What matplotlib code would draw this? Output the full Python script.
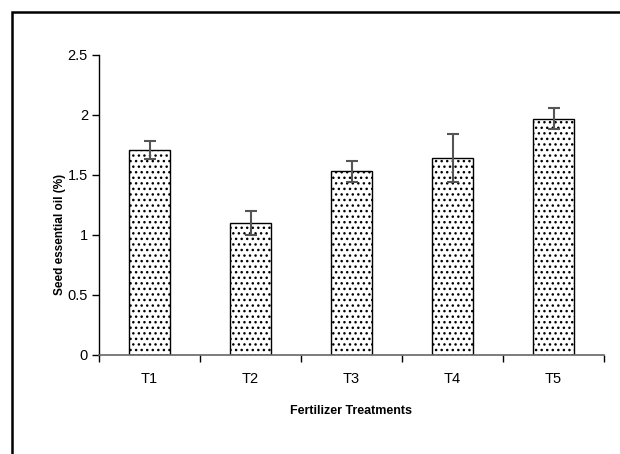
import matplotlib
matplotlib.use("Agg")
import matplotlib.pyplot as plt
from matplotlib.patches import Rectangle
import numpy as np

categories = ["T1", "T2", "T3", "T4", "T5"]
values = [1.71, 1.10, 1.53, 1.64, 1.97]
errors = [0.075, 0.10, 0.09, 0.20, 0.09]
yticks = [0, 0.5, 1, 1.5, 2, 2.5]
ytick_labels = ["0", "0.5", "1", "1.5", "2", "2.5"]

plt.rcParams['font.family'] = ['Liberation Sans', 'DejaVu Sans']
plt.rcParams['hatch.color'] = '#444444'
plt.rcParams['hatch.linewidth'] = 1.0

fig = plt.figure(figsize=(6.2, 4.54), dpi=100)
# outer frame (extends beyond image on right and bottom)
fig.patches.append(Rectangle((12/620, -0.1), 1.2, (454-12)/454 + 0.1,
                             transform=fig.transFigure, fill=False,
                             edgecolor='black', linewidth=1.8))

ax = fig.add_axes([99/620, (454-355)/454, (604-99)/620, 300/454])
x = np.arange(len(categories))
ax.bar(x, values, width=0.4, color='white', edgecolor='black',
       linewidth=1.0, hatch='...', zorder=2)
ax.errorbar(x, values, yerr=errors, fmt='none', ecolor='#555555',
            elinewidth=1.5, capsize=4, capthick=1.5, zorder=3)

ax.set_xlim(-0.5, 4.5)
ax.set_ylim(0, 2.5)
ax.spines['top'].set_visible(False)
ax.spines['right'].set_visible(False)
ax.spines['left'].set_linewidth(1.0)
ax.spines['bottom'].set_linewidth(1.2)
ax.spines['bottom'].set_color('#666666')

ax.set_yticks(yticks)
ax.set_yticklabels(ytick_labels, fontsize=10.5)
ax.tick_params(axis='y', direction='out', length=5, width=1.0, pad=3)

ax.set_xticks(x)
ax.set_xticklabels(categories, fontsize=10.5)
ax.tick_params(axis='x', which='major', length=0, pad=12)
ax.set_xticks(np.arange(-0.5, 5.0, 1.0), minor=True)
ax.tick_params(axis='x', which='minor', direction='out', length=5, width=1.0)

ax.set_xlabel("Fertilizer Treatments", fontsize=9, fontweight='bold', labelpad=14)
ax.set_ylabel("Seed essential oil (%)", fontsize=8.5, fontweight='bold')
ax.yaxis.set_label_coords(-0.066, 0.403)

fig.savefig("out.png", dpi=100)
